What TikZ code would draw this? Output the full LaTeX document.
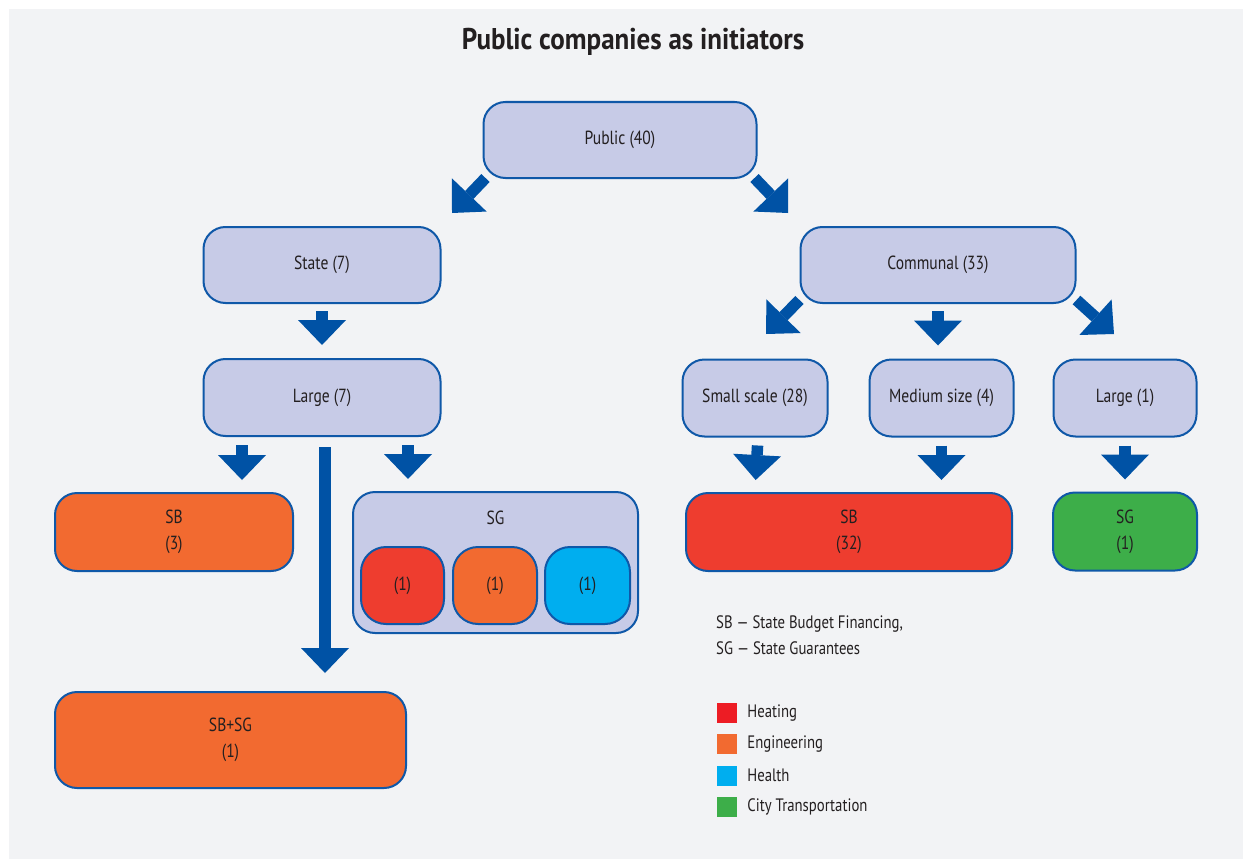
\documentclass[tikz,border=0pt]{standalone}
\usepackage{fontspec}
\setmainfont{PT Sans}[FakeStretch=0.82]
\newfontfamily\titlefont{PT Sans}[FakeStretch=0.9]
\usetikzlibrary{positioning,arrows.meta}

\definecolor{bggray}{HTML}{F2F3F5}
\definecolor{boxfill}{HTML}{C7CBE7}
\definecolor{boxline}{HTML}{0F58A8}
\definecolor{arrowblue}{HTML}{0052A5}
\definecolor{engorange}{HTML}{F26A30}
\definecolor{heatred}{HTML}{EE3D2F}
\definecolor{healthblue}{HTML}{00AEEF}
\definecolor{transgreen}{HTML}{3DAE49}
\definecolor{legred}{HTML}{ED1C24}
\definecolor{txt}{HTML}{231F20}

\tikzset{
    box/.style={draw=boxline, line width=2pt, rounded corners=22pt, fill=boxfill,
        align=center, inner sep=0pt, text=txt, font=\fontsize{19}{26}\selectfont},
    blockarrow/.style={draw=arrowblue, line width=11.5pt,
        -{Triangle[length=25pt,width=48pt,line width=0pt]}},
    legbox/.style={minimum size=20pt, inner sep=0pt},
    legtext/.style={anchor=west, text=txt, inner sep=0pt, font=\fontsize{18}{24}\selectfont}
}

\begin{document}
\begin{tikzpicture}[x=1pt,y=-1pt]
    \useasboundingbox (0,0) rectangle (1243,859);
    \fill[white] (0,0) rectangle (1243,859);
    \fill[bggray] (9,9) rectangle (1243,859);

    \node[text=txt, font=\titlefont\bfseries\fontsize{30}{34}\selectfont] (title) at (633,42) {Public companies as initiators};

    % tree
    \node[box, minimum width=273pt, minimum height=76pt] (pub) at (620,140) {Public (40)};
    \node[box, minimum width=237pt, minimum height=76pt] (state) at (322,265) {State (7)};
    \node[box, minimum width=275pt, minimum height=76pt] (comm) at (938,265) {Communal (33)};
    \node[box, minimum width=237pt, minimum height=77pt, below=54pt of state] (large) {Large (7)};
    \node[box, minimum width=145pt, minimum height=77pt] (small) at (755,398) {Small scale (28)};
    \node[box, minimum width=144pt, minimum height=77pt, right=40pt of small] (med) {Medium size (4)};
    \node[box, minimum width=143pt, minimum height=77pt, right=38pt of med] (largeone) {Large (1)};

    \node[box, fill=engorange, minimum width=238pt, minimum height=78pt] (sbthree) at (174,532) {SB\\(3)};
    \node[box, minimum width=285pt, minimum height=141pt] (sg) at (495.5,562.5) {};
    \node[text=txt, font=\fontsize{19}{24}\selectfont] (sglabel) at (495.5,518) {SG};
    \node[box, fill=heatred, rounded corners=25pt, minimum width=83pt, minimum height=77pt] (sgheat) at (402.5,585.5) {(1)};
    \node[box, fill=engorange, rounded corners=25pt, minimum width=84pt, minimum height=77pt, right=7pt of sgheat] (sgeng) {(1)};
    \node[box, fill=healthblue, rounded corners=25pt, minimum width=85pt, minimum height=77pt, right=6pt of sgeng] (sghealth) {(1)};
    \node[box, fill=engorange, minimum width=351pt, minimum height=96pt] (sbsg) at (230.5,740) {SB+SG\\(1)};
    \node[box, fill=heatred, minimum width=326pt, minimum height=78pt] (sbtt) at (849,532) {SB\\(32)};
    \node[box, fill=transgreen, minimum width=144pt, minimum height=78pt, below=54pt of largeone] (sgone) {SG\\(1)};

    % arrows
    \coordinate (tipstate) at (452,213);
    \coordinate (tipcomm) at (788,213);
    \coordinate (tipsmall) at (766,334);
    \coordinate (tiplarge) at (1114,334);
    \coordinate (colsb) at (242,0);
    \coordinate (colsg) at (408,0);
    \coordinate (colsbsg) at (325,0);

    \draw[blockarrow] ([xshift=3pt,yshift=1pt]pub.south west) -- (tipstate);
    \draw[blockarrow] ([xshift=-3pt,yshift=1pt]pub.south east) -- (tipcomm);
    \draw[blockarrow] ([yshift=4pt]comm.south west) -- (tipsmall);
    \draw[blockarrow] ([yshift=4pt]comm.south east) -- (tiplarge);
    \draw[blockarrow, shorten <=7pt, shorten >=13pt] (state.south) -- (large.north);
    \draw[blockarrow, shorten <=7pt, shorten >=13pt] (comm.south) -- (comm.south |- med.north);
    \draw[blockarrow, shorten <=8pt, shorten >=12pt] (large.south -| colsb) -- (sbthree.north -| colsb);
    \draw[blockarrow, shorten <=8pt, shorten >=12pt] (large.south -| colsg) -- (sg.north -| colsg);
    \draw[blockarrow, shorten <=10pt, shorten >=18pt] (large.south -| colsbsg) -- (sbsg.north -| colsbsg);
    \draw[blockarrow, shorten <=8pt, shorten >=12pt] (small.south) ++(3,0) -- (sbtt.north -| small.south);
    \draw[blockarrow, shorten <=8pt, shorten >=12pt] (med.south) -- (sbtt.north -| med.south);
    \draw[blockarrow, shorten <=8pt, shorten >=12pt] (largeone.south) -- (sgone.north);

    % legend
    \node[legtext] (keysb) at (716,624) {SB --- State Budget Financing,};
    \node[legtext] (keysg) at (716,648) {SG --- State Guarantees};
    \node[legbox, fill=legred] (lheat) at (727,713) {};
    \node[legbox, fill=engorange, below=11pt of lheat] (leng) {};
    \node[legbox, fill=healthblue, below=11pt of leng] (lhealth) {};
    \node[legbox, fill=transgreen, below=11pt of lhealth] (ltrans) {};
    \node[legtext, right=10pt of lheat] (theat) {Heating};
    \node[legtext, right=10pt of leng] (teng) {Engineering};
    \node[legtext, right=10pt of lhealth] (thealth) {Health};
    \node[legtext, right=10pt of ltrans] (ttrans) {City Transportation};
\end{tikzpicture}
\end{document}
